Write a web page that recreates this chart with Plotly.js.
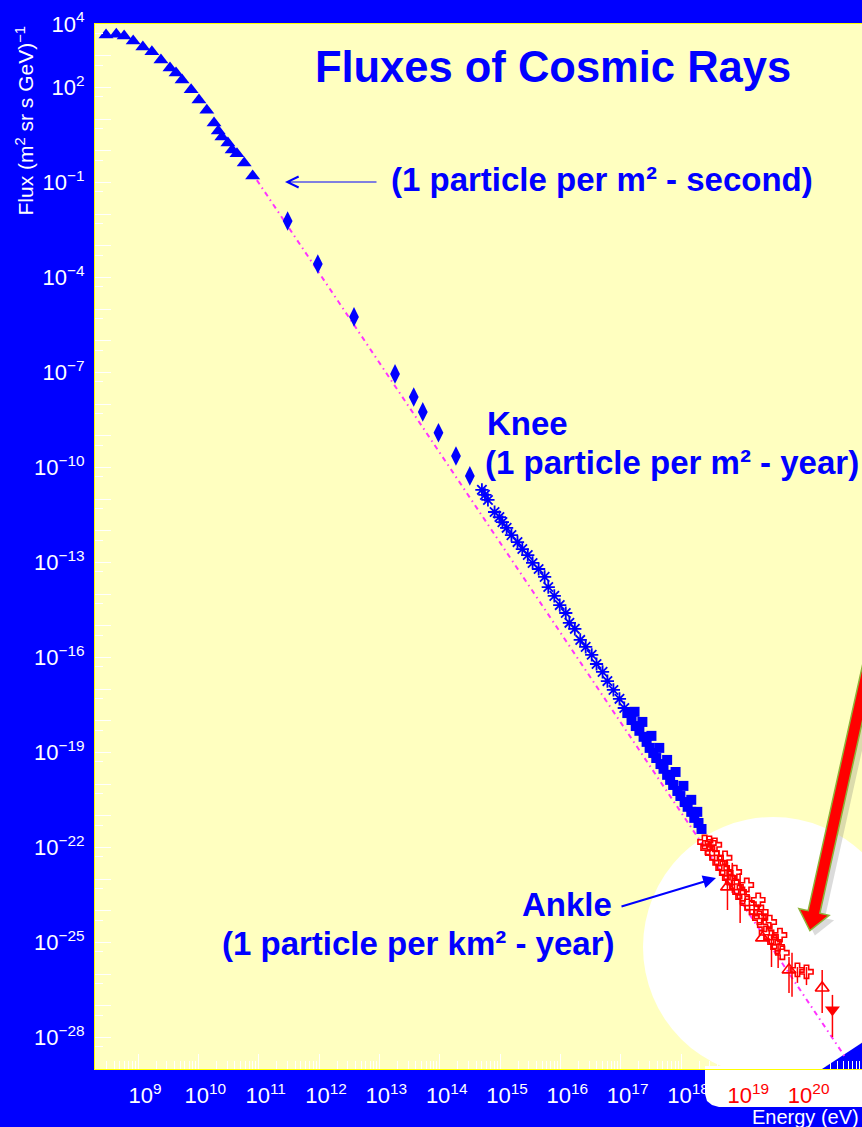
<!DOCTYPE html>
<html><head><meta charset="utf-8">
<script src="https://cdn.plot.ly/plotly-3.0.1.min.js"></script>
<style>html,body{margin:0;padding:0;background:#0000FF;overflow:hidden}</style>
</head><body><div id="chart" style="width:862px;height:1127px"></div>
<script>
// ---------- data (log10 of energy in eV, log10 of flux) ----------
const triLogE = [8.47, 8.64, 8.77, 8.92, 9.08, 9.23, 9.38, 9.53, 9.63, 9.73, 9.88, 10.01, 10.14, 10.26, 10.33, 10.39, 10.49, 10.56, 10.64, 10.76, 10.90];
const triLogF = [3.65, 3.68, 3.62, 3.46, 3.27, 3.12, 2.86, 2.61, 2.45, 2.23, 1.92, 1.60, 1.28, 0.87, 0.62, 0.43, 0.24, 0.02, -0.10, -0.39, -0.80];

const diaLogE = [11.48, 11.98, 12.58, 13.26, 13.57, 13.72, 13.98, 14.27, 14.50];
const diaLogF = [-2.22, -3.58, -5.25, -7.05, -7.78, -8.25, -8.91, -9.64, -10.27];

const starLogE = [14.70, 14.75, 14.80, 14.91, 14.99, 15.04, 15.11, 15.19, 15.29, 15.37, 15.46, 15.54, 15.64, 15.74, 15.80, 15.90, 15.99, 16.09, 16.15, 16.24, 16.33, 16.42, 16.52, 16.60, 16.70, 16.78, 16.88, 16.98, 17.06];
const starLogF = [-10.71, -10.87, -11.03, -11.41, -11.57, -11.73, -11.91, -12.14, -12.36, -12.58, -12.77, -13.02, -13.21, -13.46, -13.78, -14.06, -14.35, -14.60, -14.91, -15.10, -15.45, -15.67, -15.92, -16.21, -16.46, -16.75, -17.03, -17.31, -17.60];

const sqLogE = [17.11, 17.18, 17.25, 17.31, 17.38, 17.43, 17.48, 17.54, 17.59, 17.66, 17.71, 17.77, 17.82, 17.87, 17.94, 17.99, 18.06, 18.11, 18.17, 18.22, 18.29, 18.34,
                17.23, 17.36, 17.51, 17.64, 17.77, 17.91, 18.04, 18.17, 18.27];
const sqLogF = [-17.76, -17.98, -18.17, -18.32, -18.51, -18.67, -18.86, -19.02, -19.18, -19.37, -19.52, -19.71, -19.87, -20.03, -20.22, -20.38, -20.57, -20.72, -20.88, -21.07, -21.23, -21.42,
                -17.72, -18.04, -18.48, -18.86, -19.24, -19.62, -20.06, -20.50, -20.88];

const crossLogE = [18.39, 18.47, 18.44, 18.52, 18.59, 18.64, 18.69, 18.75, 18.80, 18.85, 18.92, 18.97, 19.02, 19.10, 19.17, 19.25, 19.33, 19.30, 19.38, 19.41, 19.50, 19.55, 19.60, 19.68, 19.93, 20.08,
                   18.56, 18.73, 18.89, 19.09, 19.28, 19.47, 19.64];
const crossLogF = [-21.83, -21.86, -22.02, -22.18, -22.33, -22.49, -22.65, -22.81, -22.97, -23.09, -23.25, -23.41, -23.57, -23.76, -23.91, -24.04, -24.04, -24.23, -24.45, -24.70, -24.83, -24.99, -25.15, -25.33, -25.87, -25.93,
                   -21.92, -22.33, -22.78, -23.19, -23.66, -24.36, -24.77];

const otriLogE = [18.77, 19.35, 19.79, 20.34];
const otriLogF = [-23.25, -24.86, -25.87, -26.44];

const dtriLogE = [20.51];
const dtriLogF = [-27.13];

const errLogE  = [18.77, 18.85, 18.98, 19.50, 19.61, 19.79, 19.84, 19.93, 20.08, 20.34, 20.51];
const errLogHi = [-22.46, -22.49, -22.81, -24.77, -25.02, -25.46, -25.33, -25.78, -25.78, -25.87, -26.66];
const errLogLo = [-23.98, -23.44, -24.39, -25.78, -25.81, -26.60, -26.72, -26.28, -26.35, -27.23, -27.99];

const fitLogE = [10.97, 20.72];
const fitLogF = [-0.93, -28.62];

const xTickExps = [9, 10, 11, 12, 13, 14, 15, 16, 17, 18, 19, 20, 21];
const xRedExps  = [19, 20, 21];
const yTickExps = [4, 2, -1, -4, -7, -10, -13, -16, -19, -22, -25, -28];

// ---------- helpers ----------
const W = 862, H = 1127, ML = 95, MR = 0, MT = 24, MB = 58;
const PW = W - ML - MR, PH = H - MT - MB;
const px = x => (x - ML) / PW;
const py = y => (H - MB - y) / PH;
const p10 = a => a.map(v => Math.pow(10, v));
const sup = n => '10<sup>' + String(n).replace('-', '\u2212') + '</sup>';

const BLUE = '#0000FF', RED = '#FF0000';
const FONT = 'Liberation Sans, Arial, sans-serif';

// error bar segments
const ebX = [], ebY = [];
errLogE.forEach((e, i) => { ebX.push(Math.pow(10, e), Math.pow(10, e), null); ebY.push(Math.pow(10, errLogHi[i]), Math.pow(10, errLogLo[i]), null); });

const traces = [
  {x: p10(fitLogE), y: p10(fitLogF), mode: 'lines', line: {color: '#FF33FF', width: 2, dash: '5px,4px,1.5px,4px'}, hoverinfo: 'skip'},
  {x: p10(triLogE), y: p10(triLogF), mode: 'markers', marker: {symbol: 'triangle-up', size: 13, color: BLUE}},
  {x: p10(diaLogE), y: p10(diaLogF), mode: 'markers', marker: {symbol: 'diamond-tall', size: 14, color: BLUE}},
  {x: p10(starLogE), y: p10(starLogF), mode: 'markers', marker: {symbol: 'asterisk-open', size: 11, color: BLUE, line: {color: BLUE, width: 1.8}}},
  {x: p10(sqLogE), y: p10(sqLogF), mode: 'markers', marker: {symbol: 'square', size: 10, color: BLUE}},
  {x: ebX, y: ebY, mode: 'lines', line: {color: RED, width: 1.5}, connectgaps: false, hoverinfo: 'skip'},
  {x: p10(crossLogE), y: p10(crossLogF), mode: 'markers', marker: {symbol: 'cross-open', size: 11, color: RED, line: {color: RED, width: 1.6}}},
  {x: p10(otriLogE), y: p10(otriLogF), mode: 'markers', marker: {symbol: 'triangle-up-open', size: 12, color: RED, line: {color: RED, width: 1.6}}},
  {x: p10(dtriLogE), y: p10(dtriLogF), mode: 'markers', marker: {symbol: 'triangle-down', size: 13, color: RED}},
  // empty trace that carries the overlay axis used for the unlabeled decade ticks
  {x: [], y: [], xaxis: 'x', yaxis: 'y2', mode: 'markers', hoverinfo: 'skip'}
];

// ticks
const xTickVals = xTickExps.map(n => Math.pow(10, n));
const xTickText = xTickExps.map(n => xRedExps.includes(n) ? '<span style="color:#FF0000">' + sup(n) + '</span>' : sup(n));
const xMinor = [];
for (let n = 8; n <= 20; n++) for (let k = 2; k <= 9; k++) xMinor.push(k * Math.pow(10, n));
const yTickVals = yTickExps.map(n => Math.pow(10, n));
const yTickText = yTickExps.map(sup);
const yDecades = [];
for (let n = 4; n >= -29; n--) yDecades.push(Math.pow(10, n));
const yMinor = [];
for (let n = 3; n >= -29; n--) yMinor.push(5 * Math.pow(10, n));

// decorative arrow geometry (pixels)
function arrowPath(cx1, cy1, cx2, cy2, hw, headW, headL, ox, oy) {
  const dx = cx2 - cx1, dy = cy2 - cy1, L = Math.hypot(dx, dy);
  const ux = dx / L, uy = dy / L, nx = -uy, ny = ux;
  const pts = [
    [cx1 + nx * hw, cy1 + ny * hw], [cx2 + nx * hw, cy2 + ny * hw], [cx2 + nx * headW, cy2 + ny * headW],
    [cx2 + ux * headL, cy2 + uy * headL],
    [cx2 - nx * headW, cy2 - ny * headW], [cx2 - nx * hw, cy2 - ny * hw], [cx1 - nx * hw, cy1 - ny * hw]
  ];
  return 'M' + pts.map(p => px(p[0] + ox).toFixed(5) + ',' + py(p[1] + oy).toFixed(5)).join('L') + 'Z';
}
function pathPx(pts) { return 'M' + pts.map(p => px(p[0]).toFixed(5) + ',' + py(p[1]).toFixed(5)).join('L') + 'Z'; }

const shapes = [
  {type: 'circle', xref: 'paper', yref: 'paper', x0: px(643), x1: px(903), y0: py(1077), y1: py(817), fillcolor: '#FFFFFF', line: {width: 0}, layer: 'below'},
  {type: 'path', xref: 'paper', yref: 'paper', path: pathPx([[705, 1066], [705, 1094], [707, 1101], [712, 1105], [719, 1107], [870, 1107], [870, 1066]]), fillcolor: '#FFFFFF', line: {width: 0}, layer: 'below'},
  {type: 'path', xref: 'paper', yref: 'paper', path: pathPx([[822, 1069], [866, 1069], [866, 1040]]), fillcolor: BLUE, line: {width: 0}, layer: 'below'},
  {type: 'path', xref: 'paper', yref: 'paper', path: arrowPath(872, 650, 814, 912, 6, 15.5, 19, 5, 5), fillcolor: 'rgba(110,110,110,0.25)', line: {width: 0}, layer: 'above'},
  {type: 'path', xref: 'paper', yref: 'paper', path: arrowPath(872, 650, 814, 912, 6, 15.5, 19, 0, 0), fillcolor: RED, line: {color: '#8DB33A', width: 1.5}, layer: 'above'}
];

const tf = {family: FONT, size: 33, color: BLUE};
const annotations = [
  {xref: 'paper', yref: 'paper', x: px(389), y: py(180), xanchor: 'left', yanchor: 'middle', text: '<b>(1 particle per m² - second)</b>', showarrow: false, font: tf},
  {xref: 'paper', yref: 'paper', x: px(285), y: py(182), text: '', showarrow: true, axref: 'pixel', ayref: 'pixel', ax: 93, ay: 0, arrowhead: 5, arrowsize: 2.2, arrowwidth: 1, arrowcolor: BLUE, standoff: 0, startstandoff: 0},
  {xref: 'paper', yref: 'paper', x: px(485), y: py(423), xanchor: 'left', yanchor: 'middle', text: '<b>Knee</b>', showarrow: false, font: tf},
  {xref: 'paper', yref: 'paper', x: px(483), y: py(462), xanchor: 'left', yanchor: 'middle', text: '<b>(1 particle per m² - year)</b>', showarrow: false, font: tf},
  {xref: 'paper', yref: 'paper', x: px(614), y: py(905), xanchor: 'right', yanchor: 'middle', text: '<b>Ankle</b>', showarrow: false, font: tf},
  {xref: 'paper', yref: 'paper', x: px(617), y: py(943), xanchor: 'right', yanchor: 'middle', text: '<b>(1 particle per km² - year)</b>', showarrow: false, font: tf},
  {xref: 'paper', yref: 'paper', x: px(716), y: py(878), text: '', showarrow: true, axref: 'pixel', ayref: 'pixel', ax: -96, ay: 29, arrowhead: 2, arrowsize: 1.3, arrowwidth: 2, arrowcolor: BLUE, standoff: 0},
  {xref: 'paper', yref: 'paper', x: px(25), y: py(25), xanchor: 'center', yanchor: 'top', textangle: -90, text: 'Flux (m<sup>2</sup> sr s GeV)<sup>\u22121</sup>', showarrow: false, font: {family: FONT, size: 21, color: '#FFFFFF'}},
  {xref: 'paper', yref: 'paper', x: px(861), y: py(1117), xanchor: 'right', yanchor: 'middle', text: 'Energy (eV)', showarrow: false, font: {family: FONT, size: 20, color: '#FFFFFF'}}
];

const axisCommon = {
  type: 'log', tickmode: 'array', ticks: 'inside', tickcolor: '#FFFFFF', tickwidth: 1,
  tickfont: {family: FONT, size: 22, color: '#FFFFFF'},
  showgrid: false, zeroline: false, showline: true, linecolor: '#FFFF00', linewidth: 1, mirror: true
};

const layout = {
  width: W, height: H,
  margin: {l: ML, r: MR, t: MT, b: MB, pad: 0},
  paper_bgcolor: BLUE, plot_bgcolor: '#FFFFC0',
  showlegend: false,
  font: {family: FONT, color: '#FFFFFF'},
  title: {text: '<b>Fluxes of Cosmic Rays</b>', font: {family: FONT, size: 43.5, color: BLUE},
          xref: 'container', yref: 'container', x: 553 / W, xanchor: 'center', y: 1 - 67 / H, yanchor: 'middle'},
  xaxis: Object.assign({}, axisCommon, {
    range: [8.287, 21], tickvals: xTickVals, ticktext: xTickText, ticklen: 15, ticklabelshift: 7, ticklabelstandoff: 7,
    minor: {tickmode: 'array', tickvals: xMinor, ticks: 'inside', ticklen: 8, tickcolor: '#FFFFFF', tickwidth: 1, showgrid: false}
  }),
  yaxis: Object.assign({}, axisCommon, {
    range: [-29, 4], tickvals: yTickVals, ticktext: yTickText, ticklen: 16, ticklabelstandoff: 5,
    minor: {tickmode: 'array', tickvals: yMinor, ticks: 'inside', ticklen: 8, tickcolor: '#FFFFFF', tickwidth: 1, showgrid: false}
  }),
  yaxis2: {
    type: 'log', overlaying: 'y', side: 'left', range: [-29, 4], tickmode: 'array', tickvals: yDecades,
    ticks: 'inside', ticklen: 16, tickcolor: '#FFFFFF', tickwidth: 1, showticklabels: false,
    showgrid: false, zeroline: false, showline: false
  },
  shapes: shapes,
  annotations: annotations
};

Plotly.newPlot('chart', traces, layout, {displayModeBar: false, staticPlot: true});
</script>
</body></html>
